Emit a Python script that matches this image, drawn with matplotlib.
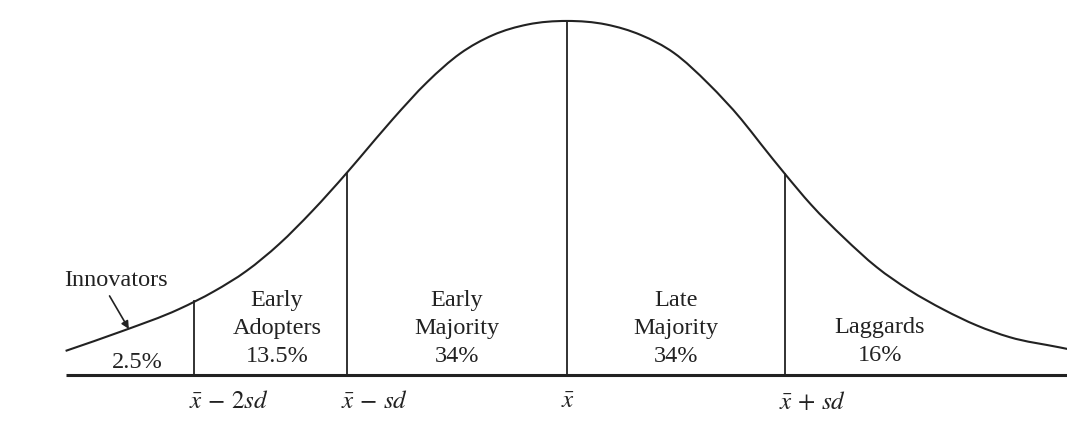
import numpy as np
import matplotlib.pyplot as plt
from matplotlib.path import Path
from matplotlib.patches import PathPatch

# --- Curve (x in sd units from the mean, height relative to the peak) ---
curve_x = [-2.30, -2.04, -1.78, -1.62, -1.47, -1.32, -1.17, -1.01, -0.95, -0.80,
           -0.64, -0.49, -0.34, -0.18, 0.00, 0.18, 0.34, 0.49, 0.65,
           0.80, 0.89, 1.00, 1.12, 1.27, 1.42, 1.57, 1.73, 1.88, 2.03, 2.26, 2.30]
curve_h = [0.068, 0.124, 0.186, 0.236, 0.294, 0.370, 0.462, 0.571, 0.614, 0.722,
           0.828, 0.908, 0.960, 0.990, 1.000, 0.990, 0.960, 0.910, 0.822,
           0.722, 0.652, 0.568, 0.481, 0.388, 0.305, 0.240, 0.184, 0.140, 0.107, 0.078, 0.073]

# --- Category boundaries and their tick labels ---
boundary_x = [-1.71, -1.01, 0.0, 1.0]
boundary_labels = [r'$\bar{x}\,-\,2sd$', r'$\bar{x}\,-\,sd$', r'$\bar{x}$', r'$\bar{x}\,+\,sd$']

# --- Adopter categories and shares ---
categories = ['Innovators', 'Early\nAdopters', 'Early\nMajority', 'Late\nMajority', 'Laggards']
shares = ['2.5%', '13.5%', '34%', '34%', '16%']

# label layout (x in sd units, y as relative height)
label_x = [-1.97, -1.33, -0.505, 0.50, 1.435]
ink = '#222222'
fs = 17.5

plt.rcParams['font.family'] = ['Liberation Serif', 'DejaVu Serif']
plt.rcParams['mathtext.fontset'] = 'stix'


def smooth_path(xs, ys):
    # cubic Hermite through the read points (tangents from neighbouring secants)
    x = np.asarray(xs, float)
    y = np.asarray(ys, float)
    h = np.diff(x)
    d = np.diff(y) / h
    m = np.zeros_like(x)
    m[0], m[-1] = d[0], d[-1]
    for i in range(1, len(x) - 1):
        if d[i - 1] * d[i] > 0:
            m[i] = (d[i - 1] * h[i] + d[i] * h[i - 1]) / (h[i - 1] + h[i])
    verts = [(x[0], y[0])]
    codes = [Path.MOVETO]
    for i in range(len(h)):
        verts += [(x[i] + h[i] / 3, y[i] + m[i] * h[i] / 3),
                  (x[i + 1] - h[i] / 3, y[i + 1] - m[i + 1] * h[i] / 3),
                  (x[i + 1], y[i + 1])]
        codes += [Path.CURVE4] * 3
    return Path(verts, codes)


fig = plt.figure(figsize=(10.67, 4.39), dpi=100)
ax = fig.add_axes([0, 0, 1, 1])
ax.set_xlim(-2.601, 2.294)
ax.set_ylim(-0.178, 1.062)
ax.axis('off')

# bell curve and baseline
ax.add_patch(PathPatch(smooth_path(curve_x, curve_h), fill=False, edgecolor=ink, lw=1.5))
ax.plot([curve_x[0], 2.294], [0, 0], color=ink, lw=2.2, solid_capstyle='butt')

# separators up to the curve + tick labels
for bx, lab in zip(boundary_x, boundary_labels):
    top = np.interp(bx, curve_x, curve_h)
    ax.plot([bx, bx], [0, top], color=ink, lw=1.3)
    ax.annotate(lab, xy=(bx, 0), xytext=(-4, -11), textcoords='offset points',
                ha='left', va='top', fontsize=18, color=ink)

# Innovators: name above with an arrow, share in the tail
ax.annotate(categories[0], xy=(-2.01, 0.13), xytext=(-2.068, 0.271),
            ha='center', va='center', fontsize=fs, color=ink,
            arrowprops=dict(arrowstyle='-|>', color=ink, lw=1.2, mutation_scale=11,
                            shrinkA=3, shrinkB=0, relpos=(0.4, 0.0)))
ax.text(label_x[0], 0.037, shares[0], ha='center', va='center', fontsize=fs, color=ink)

# other categories
for cx, name, share in zip(label_x[1:], categories[1:], shares[1:]):
    txt = name + '\n' + share
    n_lines = txt.count('\n') + 1
    yc = 0.134 if n_lines == 3 else 0.097
    ax.text(cx, yc, txt, ha='center', va='center', fontsize=fs, color=ink,
            linespacing=1.45)

fig.savefig('out.png', dpi=100, facecolor='white')
